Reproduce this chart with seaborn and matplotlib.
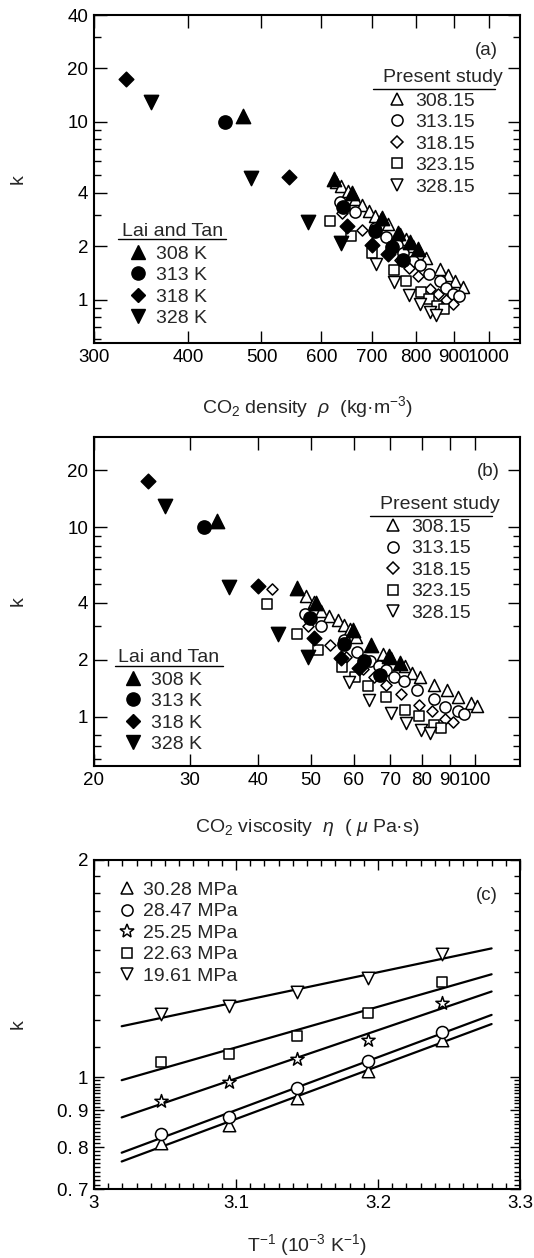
import numpy as np
import pandas as pd
import matplotlib
matplotlib.use("Agg")
import matplotlib.pyplot as plt
import seaborn as sns
from matplotlib.ticker import FixedLocator, FixedFormatter, NullFormatter
from matplotlib.lines import Line2D

# ---------------- data: panel (a)/(b) Lai and Tan (filled) ----------------
lt_k_308 = [10.8, 4.77, 3.99, 2.87, 2.38, 2.10, 1.92]
lt_rho_308 = [473, 624, 659, 722, 759, 787, 807]
lt_eta_308 = [33.6, 47.2, 51.1, 59.7, 64.6, 69.7, 73.0]

lt_k_313 = [10.0, 3.32, 2.43, 1.98, 1.67]
lt_rho_313 = [447, 642, 706, 745, 771]
lt_eta_313 = [31.9, 49.9, 57.4, 62.7, 67.0]

lt_k_318 = [17.5, 4.90, 2.61, 2.04, 1.80]
lt_rho_318 = [331, 543, 649, 700, 735]
lt_eta_318 = [25.1, 40.0, 50.7, 56.8, 61.4]

lt_k_328 = [13.0, 4.82, 2.74, 2.07]
lt_rho_328 = [357, 485, 577, 637]
lt_eta_328 = [27.0, 35.4, 43.6, 49.4]

# ---------------- panel (a) present study vs density ----------------
a_rho_308 = [628, 638, 650, 665, 679, 693, 707, 721, 736, 763, 778, 794, 811, 827, 862, 884, 902, 925]
a_k_308 = [4.60, 4.37, 4.09, 3.67, 3.40, 3.15, 2.96, 2.83, 2.65, 2.33, 2.18, 2.00, 1.83, 1.72, 1.48, 1.38, 1.27, 1.18]
a_rho_313 = [635, 665, 707, 732, 755, 771, 794, 811, 834, 862, 879, 898, 914]
a_k_313 = [3.56, 3.13, 2.54, 2.26, 2.02, 1.83, 1.65, 1.56, 1.40, 1.27, 1.16, 1.08, 1.05]
a_rho_318 = [640, 679, 700, 763, 783, 807, 836, 857, 879, 896]
a_k_318 = [3.06, 2.46, 2.05, 1.68, 1.51, 1.35, 1.15, 1.08, 0.99, 0.95]
a_rho_323 = [616, 657, 700, 748, 778, 813, 834, 853, 872]
a_k_323 = [2.77, 2.28, 1.83, 1.46, 1.28, 1.10, 1.01, 0.92, 0.88]
a_rho_328 = [710, 748, 785, 811, 836, 851]
a_k_328 = [1.58, 1.25, 1.06, 0.95, 0.85, 0.82]

# ---------------- panel (b) present study vs viscosity ----------------
b_eta_308 = [48.9, 50.7, 52.2, 54.0, 56.0, 57.6, 59.1, 60.5, 67.7, 70.2, 74.3, 76.6, 79.4, 84.1, 89.0, 93.1, 98.2, 101.1]
b_k_308 = [4.33, 4.03, 3.61, 3.39, 3.23, 3.07, 2.91, 2.64, 2.15, 2.04, 1.85, 1.70, 1.62, 1.48, 1.38, 1.28, 1.18, 1.14]
b_eta_313 = [48.8, 52.2, 57.4, 60.8, 64.3, 66.8, 68.7, 71.0, 74.1, 78.3, 84.1, 88.0, 93.1, 95.7]
b_k_313 = [3.47, 3.03, 2.53, 2.19, 1.96, 1.85, 1.76, 1.63, 1.54, 1.38, 1.24, 1.13, 1.07, 1.04]
b_eta_318 = [42.5, 49.4, 54.3, 58.0, 62.2, 65.4, 68.7, 73.2, 79.1, 83.4, 88.0, 91.1]
b_k_318 = [4.70, 3.00, 2.40, 2.07, 1.79, 1.63, 1.48, 1.32, 1.16, 1.07, 0.97, 0.94]
b_eta_323 = [41.5, 47.1, 51.6, 57.0, 60.3, 63.6, 68.7, 74.5, 79.1, 84.1, 86.7]
b_k_323 = [3.96, 2.75, 2.26, 1.83, 1.63, 1.45, 1.27, 1.09, 1.01, 0.91, 0.87]
b_eta_328 = [58.8, 64.0, 70.2, 74.8, 79.7, 82.6]
b_k_328 = [1.52, 1.23, 1.05, 0.93, 0.85, 0.82]

# ---------------- panel (c) ----------------
inv_T = [3.047, 3.095, 3.143, 3.193, 3.245]
c_k_3028 = [0.810, 0.858, 0.936, 1.021, 1.125]
c_k_2847 = [0.834, 0.880, 0.965, 1.052, 1.157]
c_k_2525 = [0.926, 0.986, 1.061, 1.125, 1.268]
c_k_2263 = [1.050, 1.078, 1.141, 1.228, 1.354]
c_k_1961 = [1.224, 1.254, 1.314, 1.372, 1.480]
fit_range = [3.0195, 3.28]

present_labels = ["308.15", "313.15", "318.15", "323.15", "328.15"]
lai_labels = ["308 K", "313 K", "318 K", "328 K"]
pressure_labels = ["30.28 MPa", "28.47 MPa", "25.25 MPa", "22.63 MPa", "19.61 MPa"]

# ---------------- style ----------------
sns.set_theme(style="ticks")
plt.rcParams['font.family'] = ['Liberation Sans', 'DejaVu Sans']
plt.rcParams['mathtext.fontset'] = 'custom'
plt.rcParams['mathtext.rm'] = 'Liberation Sans'
plt.rcParams['mathtext.it'] = 'Liberation Sans:italic'
plt.rcParams['mathtext.bf'] = 'Liberation Sans:bold'
FS = 13.5
LFS = 14.0

W, H = 534, 1258
fig = plt.figure(figsize=(W / 100, H / 100), dpi=100)


def axes_px(left, top, right, bottom):
    return fig.add_axes([left / W, 1 - bottom / H, (right - left) / W, (bottom - top) / H])


ax_a = axes_px(94, 15, 520, 343)
ax_b = axes_px(94, 437, 520, 766)
ax_c = axes_px(94, 860, 520, 1189)

open_markers = ['^', 'o', 'D', 's', 'v']
open_sizes = [75, 65, 32, 45, 75]
lt_markers = ['^', 'o', 'D', 'v']
lt_sizes = [105, 90, 55, 105]


def draw_points(ax, xs, ys, marker, s, filled):
    sns.scatterplot(x=xs, y=ys, marker=marker, s=s, ax=ax,
                    color='black' if filled else 'white',
                    edgecolor='black', linewidth=1.1, zorder=4 if filled else 3,
                    legend=False)


def style_axis(ax):
    for sp in ax.spines.values():
        sp.set_linewidth(1.5)
        sp.set_color('black')
    ax.tick_params(which='both', direction='in', top=True, right=True,
                   colors='black', labelsize=FS, width=1.0)
    ax.tick_params(which='major', length=9, pad=4)
    ax.tick_params(which='minor', length=5)


def add_legend(ax, handles, labels, x, y, title=None, tx=None, ty=None, ul=None, hpad=0.55):
    leg = ax.legend(handles, labels, loc='upper left', bbox_to_anchor=(x, y),
                    frameon=False, fontsize=LFS, handlelength=0.8, handletextpad=hpad,
                    labelspacing=0.2, borderpad=0, borderaxespad=0)
    if title is not None:
        ax.text(tx, ty, title, transform=ax.transAxes, ha='center', va='center', fontsize=LFS)
        ax.plot(ul[0], [ul[1], ul[1]], transform=ax.transAxes, color='black', lw=1.0, clip_on=False)
    return leg


def open_handle(m, ms):
    return Line2D([], [], ls='none', marker=m, mfc='white', mec='black', mew=1.1, ms=ms)


def filled_handle(m, ms):
    return Line2D([], [], ls='none', marker=m, mfc='black', mec='black', mew=1.0, ms=ms)


open_ms = [8.5, 8.0, 5.8, 6.8, 8.5]
lt_ms = [10.0, 9.5, 7.5, 10.0]

# ---------------- panel (a) ----------------
ax = ax_a
a_sets = [(a_rho_308, a_k_308), (a_rho_313, a_k_313), (a_rho_318, a_k_318),
          (a_rho_323, a_k_323), (a_rho_328, a_k_328)]
for (xs, ys), m, s in zip(a_sets, open_markers, open_sizes):
    draw_points(ax, xs, ys, m, s, False)
lt_a = [(lt_rho_308, lt_k_308), (lt_rho_313, lt_k_313), (lt_rho_318, lt_k_318), (lt_rho_328, lt_k_328)]
for (xs, ys), m, s in zip(lt_a, lt_markers, lt_sizes):
    draw_points(ax, xs, ys, m, s, True)
ax.set_xscale('log')
ax.set_yscale('log')
ax.set_xlim(300, 1100)
ax.set_ylim(0.57, 40)
xt = [300, 400, 500, 600, 700, 800, 900, 1000]
ax.xaxis.set_major_locator(FixedLocator(xt))
ax.xaxis.set_major_formatter(FixedFormatter([str(v) for v in xt]))
ax.xaxis.set_minor_locator(FixedLocator([]))
yt = [1, 2, 4, 10, 20, 40]
ax.yaxis.set_major_locator(FixedLocator(yt))
ax.yaxis.set_major_formatter(FixedFormatter([str(v) for v in yt]))
ax.yaxis.set_minor_locator(FixedLocator([0.6, 0.7, 0.8, 0.9, 3, 5, 6, 7, 8, 9, 30]))
ax.yaxis.set_minor_formatter(NullFormatter())
style_axis(ax)
ax.set_xlabel('CO$_2$ density  $\\rho$  (kg·m$^{-3}$)', fontsize=LFS)
ax.set_ylabel('k', fontsize=LFS)
ax.xaxis.set_label_coords(0.5, -0.155)
ax.yaxis.set_label_coords(-0.158, 0.5)
ax.text(0.922, 0.893, '(a)', transform=ax.transAxes, ha='center', va='center', fontsize=FS)
leg1 = add_legend(ax, [open_handle(m, s) for m, s in zip(open_markers, open_ms)], present_labels,
                  0.693, 0.765, 'Present study', 0.82, 0.808, ([0.655, 0.941], 0.774))
ax.add_artist(leg1)
add_legend(ax, [filled_handle(m, s) for m, s in zip(lt_markers, lt_ms)], lai_labels,
           0.084, 0.299, 'Lai and Tan', 0.184, 0.339, ([0.056, 0.311], 0.316))

# ---------------- panel (b) ----------------
ax = ax_b
b_sets = [(b_eta_308, b_k_308), (b_eta_313, b_k_313), (b_eta_318, b_k_318),
          (b_eta_323, b_k_323), (b_eta_328, b_k_328)]
for (xs, ys), m, s in zip(b_sets, open_markers, open_sizes):
    draw_points(ax, xs, ys, m, s, False)
lt_b = [(lt_eta_308, lt_k_308), (lt_eta_313, lt_k_313), (lt_eta_318, lt_k_318), (lt_eta_328, lt_k_328)]
for (xs, ys), m, s in zip(lt_b, lt_markers, lt_sizes):
    draw_points(ax, xs, ys, m, s, True)
ax.set_xscale('log')
ax.set_yscale('log')
ax.set_xlim(20, 121)
ax.set_ylim(0.55, 30)
xt = [20, 30, 40, 50, 60, 70, 80, 90, 100]
ax.xaxis.set_major_locator(FixedLocator(xt))
ax.xaxis.set_major_formatter(FixedFormatter([str(v) for v in xt]))
ax.xaxis.set_minor_locator(FixedLocator([]))
yt = [1, 2, 4, 10, 20]
ax.yaxis.set_major_locator(FixedLocator(yt))
ax.yaxis.set_major_formatter(FixedFormatter([str(v) for v in yt]))
ax.yaxis.set_minor_locator(FixedLocator([0.6, 0.7, 0.8, 3, 5, 6, 7, 8, 9]))
ax.yaxis.set_minor_formatter(NullFormatter())
style_axis(ax)
ax.set_xlabel('CO$_2$ viscosity  $\\eta$  ( $\\mu$ Pa·s)', fontsize=LFS)
ax.set_ylabel('k', fontsize=LFS)
ax.xaxis.set_label_coords(0.5, -0.155)
ax.yaxis.set_label_coords(-0.158, 0.5)
ax.text(0.926, 0.895, '(b)', transform=ax.transAxes, ha='center', va='center', fontsize=FS)
leg2 = add_legend(ax, [open_handle(m, s) for m, s in zip(open_markers, open_ms)], present_labels,
                  0.684, 0.753, 'Present study', 0.812, 0.796, ([0.648, 0.934], 0.760))
ax.add_artist(leg2)
add_legend(ax, [filled_handle(m, s) for m, s in zip(lt_markers, lt_ms)], lai_labels,
           0.073, 0.289, 'Lai and Tan', 0.174, 0.330, ([0.049, 0.303], 0.303))

# ---------------- panel (c) ----------------
ax = ax_c
c_sets = [c_k_3028, c_k_2847, c_k_2525, c_k_2263, c_k_1961]
c_markers = ['^', 'o', '*', 's', 'v']
c_sizes = [80, 75, 100, 50, 80]
xfit = np.linspace(fit_range[0], fit_range[1], 50)
for ks, m, s in zip(c_sets, c_markers, c_sizes):
    coef = np.polyfit(inv_T, np.log10(ks), 1)
    sns.lineplot(x=xfit, y=10 ** np.polyval(coef, xfit), color='black', lw=1.6, ax=ax, zorder=2)
    draw_points(ax, inv_T, ks, m, s, False)
ax.set_yscale('log')
ax.set_xlim(3.0, 3.3)
ax.set_ylim(0.7, 2.0)
xt = [3.0, 3.1, 3.2, 3.3]
ax.xaxis.set_major_locator(FixedLocator(xt))
ax.xaxis.set_major_formatter(FixedFormatter(['3', '3.1', '3.2', '3.3']))
ax.xaxis.set_minor_locator(FixedLocator(list(np.round(np.arange(3.0, 3.3, 0.01), 2))))
yt = [0.7, 0.8, 0.9, 1, 2]
ax.yaxis.set_major_locator(FixedLocator(yt))
ax.yaxis.set_major_formatter(FixedFormatter(['0. 7', '0. 8', '0. 9', '1', '2']))
ax.yaxis.set_minor_locator(FixedLocator(list(np.round(np.arange(0.71, 1.0, 0.01), 2)) +
                                        [1.1, 1.2, 1.3, 1.4, 1.5, 1.6, 1.7, 1.8, 1.9]))
ax.yaxis.set_minor_formatter(NullFormatter())
style_axis(ax)
ax.tick_params(which='major', length=7)
ax.tick_params(which='minor', length=4)
ax.set_xlabel('T$^{-1}$ (10$^{-3}$ K$^{-1}$)', fontsize=LFS)
ax.set_ylabel('k', fontsize=LFS)
ax.xaxis.set_label_coords(0.5, -0.13)
ax.yaxis.set_label_coords(-0.158, 0.5)
ax.text(0.922, 0.891, '(c)', transform=ax.transAxes, ha='center', va='center', fontsize=FS)
c_ms = [8.5, 8.0, 10.0, 7.0, 8.5]
add_legend(ax, [open_handle(m, s) for m, s in zip(c_markers, c_ms)], pressure_labels,
           0.059, 0.935, hpad=0.45)

fig.savefig('out.png', dpi=100)
